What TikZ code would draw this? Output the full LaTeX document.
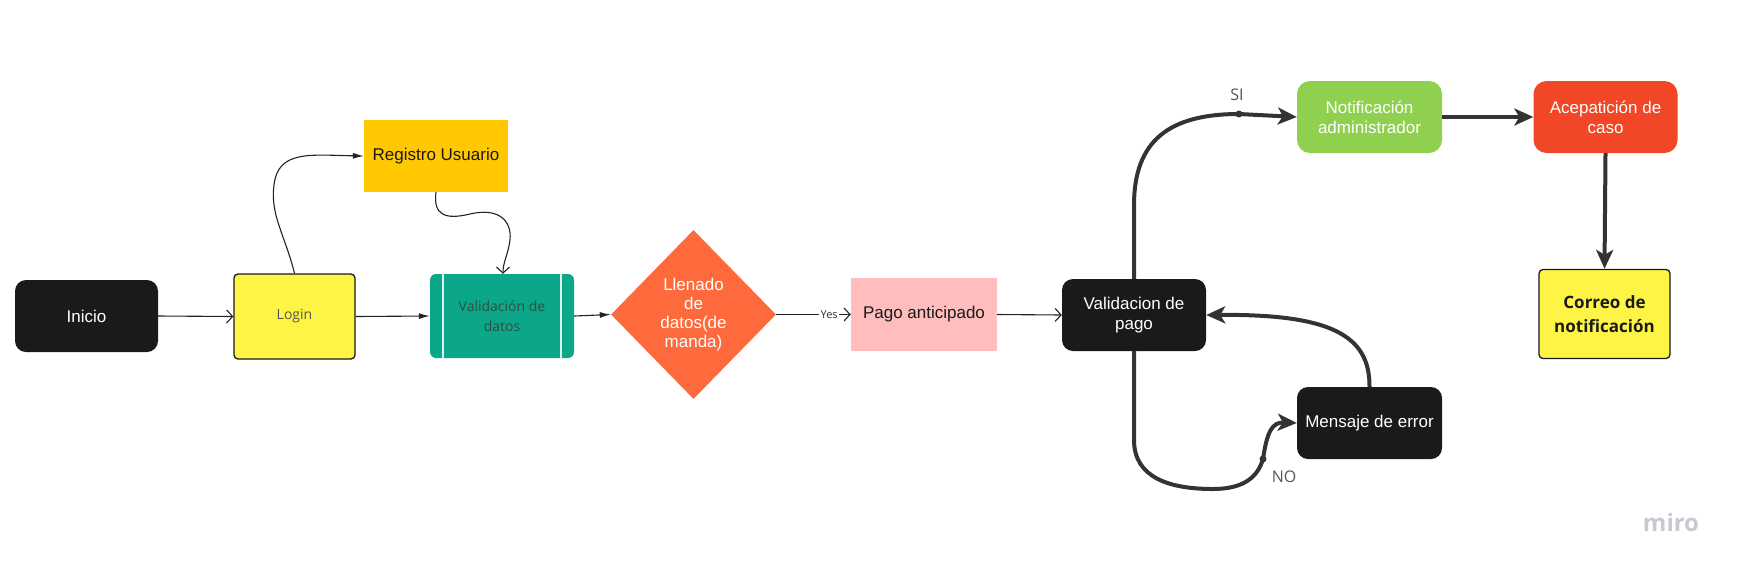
\documentclass[tikz,border=0pt]{standalone}
\usepackage{fontspec}
\setmainfont{Liberation Sans}
\newfontfamily\opensans{Open Sans}
\usetikzlibrary{arrows.meta,shapes.geometric}
\definecolor{nodeblack}{HTML}{1A1A1A}
\definecolor{loginyellow}{HTML}{FEF445}
\definecolor{regyellow}{HTML}{FFC800}
\definecolor{tealbox}{HTML}{0CA789}
\definecolor{valtext}{HTML}{2B4F47}
\definecolor{diaorange}{HTML}{FE6A3C}
\definecolor{pagopink}{HTML}{FFBDBD}
\definecolor{greenbox}{HTML}{8FD14F}
\definecolor{redbox}{HTML}{F24726}
\definecolor{thinline}{HTML}{222222}
\definecolor{darkline}{HTML}{333333}
\definecolor{labelgray}{HTML}{555555}
\definecolor{mirogray}{HTML}{C8C8D2}
\begin{document}
\begin{tikzpicture}[x=1pt,y=-1pt,
  base/.style={inner sep=0pt, align=center, font=\fontsize{17}{20}\selectfont},
  blackbox/.style={base, fill=nodeblack, text=white, rounded corners=11pt},
  thinconn/.style={line width=1.1pt, draw=thinline},
  thickconn/.style={line width=4pt, draw=darkline},
  openarr/.style={-{Straight Barb[length=6pt,width=13pt,line width=1.1pt]}},
  fillarr/.style={-{Latex[length=11pt,width=6pt]}},
  thickarr/.style={-{Stealth[length=19pt,width=17pt,inset=5pt]}},
  edgelabel/.style={inner sep=1pt, font=\opensans\fontsize{16}{18}\selectfont, text=labelgray},
  dotstyle/.style={circle, fill=darkline, inner sep=0pt, minimum size=7pt}
]
\path[use as bounding box] (0,0) rectangle (1739,574);

% nodes
\node[blackbox, minimum width=143pt, minimum height=72pt] (ini) at (86.5,316) {Inicio};
\node[base, fill=loginyellow, draw=nodeblack, line width=1.3pt, rounded corners=4pt,
      minimum width=121pt, minimum height=85pt, text=labelgray,
      font=\opensans\fontsize{14}{16}\selectfont] (login) at (294.5,316.5) {Login};
\node[base, fill=regyellow, minimum width=144pt, minimum height=72pt, text=nodeblack] (reg) at (436,156) {Registro Usuario};
\node[base, fill=tealbox, rounded corners=6pt, minimum width=144pt, minimum height=84pt,
      text=valtext, font=\opensans\fontsize{14}{20}\selectfont] (val) at (502,316) {Validación de\\datos};
\draw[white!85!tealbox, line width=1.5pt] ([xshift=13pt]val.north west) -- ([xshift=13pt]val.south west);
\draw[white!85!tealbox, line width=1.5pt] ([xshift=-13pt]val.north east) -- ([xshift=-13pt]val.south east);
\node[diamond, aspect=1, fill=diaorange, inner sep=0pt, minimum width=165pt, minimum height=169pt,
      text=white, align=center, font=\fontsize{17}{19.2}\selectfont] (dia) at (693.5,314.5) {Llenado\\de\\datos(de\\manda)};
\node[base, fill=pagopink, minimum width=146pt, minimum height=73pt, text=nodeblack] (pago) at (924,314.5) {Pago anticipado};
\node[blackbox, minimum width=144pt, minimum height=72pt] (vp) at (1134,315) {Validacion de\\pago};
\node[base, fill=greenbox, rounded corners=13pt, text=white, minimum width=145pt, minimum height=72pt] (notif) at (1369.5,117) {Notificación\\administrador};
\node[base, fill=redbox, rounded corners=13pt, text=white, minimum width=144pt, minimum height=72pt] (acc) at (1605.5,117) {Acepatición de\\caso};
\node[base, fill=loginyellow, draw=nodeblack, line width=1.3pt, rounded corners=4pt,
      minimum width=131pt, minimum height=89pt, text=nodeblack,
      font=\opensans\bfseries\fontsize{17}{24}\selectfont] (cor) at (1604.5,314) {Correo de\\notificación};
\node[blackbox, minimum width=145pt, minimum height=72pt] (men) at (1369.5,423) {Mensaje de error};

% thin connectors
\draw[thinconn, openarr] (ini.east) -- (login.west);
\draw[thinconn, fillarr] (login.east) -- (val.west);
\draw[thinconn, fillarr] (val.east) -- (dia.west);
\draw[thinconn, openarr] (dia.east) -- node[pos=0.71, fill=white, inner sep=1.5pt,
      font=\opensans\fontsize{11}{12}\selectfont, text=darkline] (yes) {Yes} (pago.west);
\draw[thinconn, openarr] (pago.east) -- (vp.west);
\draw[thinconn, fillarr] (login.north) .. controls (285,235) and (270,215) .. (274,185)
      .. controls (278,150) and (310,155) .. (reg.west);
\draw[thinconn, openarr] (reg.south) .. controls (433,215) and (445,220) .. (470,214)
      .. controls (500,207) and (512,222) .. (510,240)
      .. controls (508,255) and (503,262) .. ([xshift=1pt]val.north);

% thick connectors
\node[dotstyle] (sidot) at (1239,114) {};
\node[edgelabel] (si) at (1237,95) {SI};
\node[dotstyle] (nodot) at (1263,459) {};
\node[edgelabel] (no) at (1284,477) {NO};
\draw[thickconn, thickarr] (vp.north) -- (1134,205) .. controls (1134,140) and (1170,114) .. (sidot.center) -- (notif.west);
\draw[thickconn, thickarr] (vp.south) -- (1134,440) .. controls (1134,478) and (1170,489) .. (1213,489)
      .. controls (1245,489) and (1258,476) .. (nodot.center)
      .. controls (1267,432) and (1272,422) .. (men.west);
\draw[thickconn, thickarr] (notif.east) -- (acc.west);
\draw[thickconn, thickarr] (acc.south) -- (cor.north);
\draw[thickconn, thickarr] (men.north) .. controls (1370,335) and (1330,314) .. (vp.east);

% watermark
\node[font=\opensans\bfseries\fontsize{24}{26}\selectfont, text=mirogray] (miro) at (1671,522) {miro};
\end{tikzpicture}
\end{document}
